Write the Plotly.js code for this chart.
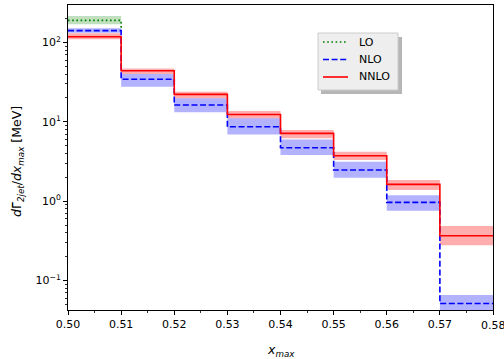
<!DOCTYPE html>
<html>
<head>
<meta charset="utf-8">
<script src="https://cdn.plot.ly/plotly-3.0.1.min.js"></script>
<style>html,body{margin:0;padding:0;background:#fff;}#chart{width:504px;height:359px;}</style>
</head>
<body>
<div id="chart"></div>
<script>
// bin edges in x_max
var edges = [0.50, 0.51, 0.52, 0.53, 0.54, 0.55, 0.56, 0.57, 0.58];
// LO (only first bin populated)
var lo    = [190];
var loLo  = [170];
var loHi  = [216];
// NLO
var nlo   = [141, 34.4, 16.3, 8.67, 4.71, 2.47, 0.966, 0.0514];
var nloLo = [133, 27.7, 13.2, 6.95, 3.81, 1.97, 0.757, 0.0424];
var nloHi = [151, 40.0, 19.8, 11.1, 6.00, 3.14, 1.19, 0.0655];
// NNLO
var nnlo   = [118, 44.0, 22.2, 12.4, 7.16, 3.74, 1.63, 0.366];
var nnloLo = [110, 40.0, 19.8, 11.1, 6.20, 3.30, 1.38, 0.279];
var nnloHi = [131, 47.2, 24.0, 13.7, 7.90, 4.20, 1.85, 0.485];

var xTickVals = [0.50, 0.51, 0.52, 0.53, 0.54, 0.55, 0.56, 0.57, 0.58];
var xTickText = ['0.50', '0.51', '0.52', '0.53', '0.54', '0.55', '0.56', '0.57', '0.58'];
var yTickVals = [0.1, 1, 10, 100];
var yTickText = ['10<sup>−1</sup>', '10<sup>0</sup>', '10<sup>1</sup>', '10<sup>2</sup>'];
var seriesNames = ['LO', 'NLO', 'NNLO'];
var seriesColors = ['#008000', '#0000ff', '#ff0000'];
var seriesDash = ['1.6px,2.6px', '6px,2.6px', 'solid'];

// plot-area geometry (px) for paper conversions
var L = 68, R = 493, T = 5, B = 310;
function px(x) { return (x - L) / (R - L); }
function py(y) { return (B - y) / (B - T); }

function band(lowArr, highArr, color) {
  var xs = [], ys = [];
  for (var i = 0; i < lowArr.length; i++) {
    xs.push(edges[i], edges[i], edges[i + 1], edges[i + 1], edges[i], null);
    ys.push(lowArr[i], highArr[i], highArr[i], lowArr[i], lowArr[i], null);
  }
  return {x: xs, y: ys, mode: 'lines', fill: 'toself', fillcolor: color,
          line: {width: 0, color: 'rgba(0,0,0,0)'}, showlegend: false, hoverinfo: 'skip'};
}
function stepLine(vals, idx) {
  var xs = edges.slice(0, vals.length + 1);
  var ys = vals.concat([vals[vals.length - 1]]);
  return {x: xs, y: ys, mode: 'lines', name: seriesNames[idx], showlegend: false,
          line: {shape: 'hv', color: seriesColors[idx], width: 1.6, dash: seriesDash[idx]}};
}

var loLine = {x: [edges[0], edges[1]], y: [lo[0], nlo[0]], mode: 'lines', name: 'LO', showlegend: false,
  line: {shape: 'hv', color: seriesColors[0], width: 1.6, dash: seriesDash[0]}};

var traces = [
  band(loLo, loHi, 'rgba(0,128,0,0.25)'),
  band(nloLo, nloHi, 'rgba(0,0,255,0.3)'),
  band(nnloLo, nnloHi, 'rgba(255,0,0,0.32)'),
  loLine,
  stepLine(nlo, 1),
  stepLine(nnlo, 2)
];

var minorY = [];
for (var d = -2; d <= 2; d++) {
  for (var k = 2; k <= 9; k++) minorY.push(k * Math.pow(10, d));
}

var font = {family: 'DejaVu Sans, sans-serif', size: 11, color: '#000'};
var labelFont = {family: 'DejaVu Sans, sans-serif', size: 12.5, color: '#000'};

var shapes = [
  // legend shadow
  {type: 'rect', xref: 'paper', yref: 'paper', layer: 'above',
   x0: px(321), x1: px(402), y0: py(94), y1: py(37),
   fillcolor: 'rgba(110,110,110,0.5)', line: {width: 0}},
  // legend box
  {type: 'rect', xref: 'paper', yref: 'paper', layer: 'above',
   x0: px(318), x1: px(398), y0: py(90), y1: py(33),
   fillcolor: '#eeeeee', line: {width: 1, color: '#cccccc'}}
];
var annotations = [
  {xref: 'paper', yref: 'paper', x: 0.5, y: py(350), yanchor: 'middle', showarrow: false,
   text: '<i>x</i><sub><i>max</i></sub>', font: labelFont},
  {xref: 'paper', yref: 'paper', x: px(17), y: py(162), xanchor: 'center', yanchor: 'middle', showarrow: false, textangle: -90,
   text: '<i>d</i>Γ̄<sub><i>2jet</i></sub>/<i>dx</i><sub><i>max</i></sub> [MeV]', font: labelFont},
  // last x tick label (clipped at the right edge, as in the reference)
  {xref: 'x', yref: 'paper', x: xTickVals[8], y: py(325), xanchor: 'center', yanchor: 'middle', showarrow: false,
   text: xTickText[8], font: font}
];
var entryY = [42, 59.5, 77];
for (var i = 0; i < 3; i++) {
  shapes.push({type: 'line', xref: 'paper', yref: 'paper', layer: 'above',
    x0: px(323), x1: px(348), y0: py(entryY[i]), y1: py(entryY[i]),
    line: {color: seriesColors[i], width: 1.6, dash: seriesDash[i]}});
  annotations.push({xref: 'paper', yref: 'paper', x: px(357), y: py(entryY[i]), xanchor: 'left', yanchor: 'middle',
    showarrow: false, text: seriesNames[i], font: font});
}

var layout = {
  width: 504, height: 359,
  margin: {l: L, r: 504 - R, t: T, b: 359 - B, pad: 0},
  paper_bgcolor: '#fff', plot_bgcolor: '#fff',
  font: font,
  showlegend: false,
  xaxis: {range: [0.50, 0.58], tickmode: 'array', tickvals: xTickVals, ticktext: xTickText,
          ticks: 'outside', ticklen: 4, tickwidth: 1, tickcolor: '#000',
          showline: true, linecolor: '#000', linewidth: 1, mirror: true,
          showgrid: false, zeroline: false, tickfont: font,
          minor: {dtick: 0.005, ticks: 'outside', ticklen: 2, tickwidth: 0.8, tickcolor: '#000', showgrid: false}},
  yaxis: {type: 'log', range: [Math.log10(0.0425), Math.log10(297)],
          tickmode: 'array', tickvals: yTickVals, ticktext: yTickText,
          ticks: 'outside', ticklen: 4, tickwidth: 1, tickcolor: '#000',
          showline: true, linecolor: '#000', linewidth: 1, mirror: true,
          showgrid: false, zeroline: false, tickfont: font,
          minor: {tickmode: 'array', tickvals: minorY, ticks: 'outside', ticklen: 2, tickwidth: 0.8, tickcolor: '#000', showgrid: false}},
  shapes: shapes,
  annotations: annotations
};

Plotly.newPlot('chart', traces, layout, {staticPlot: true, displayModeBar: false});
</script>
</body>
</html>
